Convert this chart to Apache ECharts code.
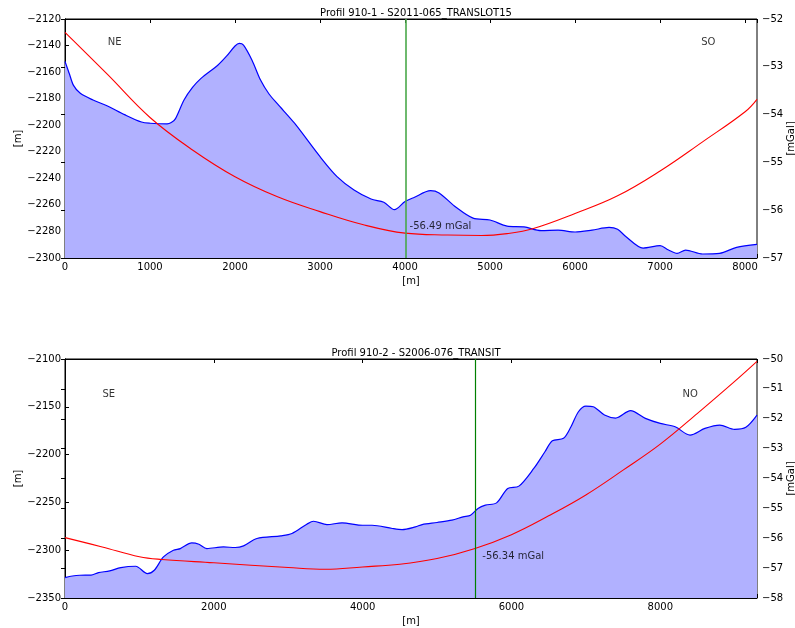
<!DOCTYPE html>
<html><head><meta charset="utf-8">
<script src="https://cdn.jsdelivr.net/npm/echarts@6/dist/echarts.min.js"></script>
<style>html,body{margin:0;padding:0;background:#fff}#c{width:795px;height:628px}</style>
</head><body><div id="c"></div><script>
// ---- Profile 1 ----
const title1 = 'Profil 910-1 - S2011-065_TRANSLOT15';
const terrainX1 = [0, 50, 100, 180, 330, 500, 700, 900, 1000, 1200, 1250, 1300, 1400, 1500, 1600, 1800, 1900, 2000, 2050, 2100, 2200, 2300, 2400, 2500, 2700, 3000, 3200, 3400, 3600, 3750, 3875, 4000, 4100, 4300, 4400, 4600, 4800, 5000, 5200, 5400, 5600, 5800, 6000, 6200, 6400, 6500, 6600, 6800, 7000, 7100, 7200, 7300, 7500, 7700, 7900, 8140];
const terrainY1 = [-2152, -2161, -2170, -2176, -2181, -2185.5, -2192, -2197.6, -2198.5, -2199, -2198, -2195, -2181, -2171.5, -2164.7, -2154.6, -2148, -2140.3, -2138.3, -2139.6, -2151, -2166, -2176.5, -2184, -2198.5, -2223.7, -2238.7, -2248.8, -2255.6, -2258, -2263.6, -2257.5, -2254.6, -2249.3, -2251, -2261.8, -2270, -2271.4, -2276, -2276.6, -2279.4, -2279, -2280.4, -2279, -2277, -2278.4, -2284, -2292.5, -2290.7, -2294, -2296.5, -2294, -2297, -2296.5, -2292, -2289.7];
const gravX1 = [0, 500, 1000, 1500, 2000, 2500, 3000, 3500, 4000, 4500, 4900, 5200, 5500, 6000, 6500, 7000, 7500, 8000, 8140];
const gravY1 = [-52.28, -53.16, -54.06, -54.74, -55.30, -55.72, -56.03, -56.30, -56.48, -56.52, -56.53, -56.49, -56.39, -56.07, -55.70, -55.18, -54.57, -53.94, -53.68];
const marker1 = 4012;
const markerLabel1 = '-56.49 mGal';
const markerValue1 = -56.49;
const dirLabels1 = ['NE', 'SO'];
const dirX1 = [585, 7568];
const dirY1 = [-2138, -2138];

// ---- Profile 2 ----
const title2 = 'Profil 910-2 - S2006-076_TRANSIT';
const terrainX2 = [0, 100, 200, 350, 450, 600, 750, 950, 1107, 1200, 1323, 1457, 1550, 1704, 1800, 1906, 2130, 2287, 2400, 2579, 2900, 3050, 3250, 3341, 3521, 3723, 4000, 4126, 4400, 4530, 4709, 4800, 5000, 5200, 5350, 5450, 5550, 5650, 5800, 5950, 6100, 6300, 6450, 6550, 6700, 6800, 6900, 7000, 7100, 7250, 7400, 7600, 7800, 8000, 8200, 8400, 8600, 8800, 9000, 9150, 9300];
const terrainY2 = [-2328.6, -2327, -2326.2, -2326, -2323.4, -2321.7, -2318.2, -2316.8, -2324.5, -2321, -2307, -2300, -2298.3, -2292.4, -2293.8, -2298.3, -2296.6, -2297.2, -2295.5, -2287.8, -2285, -2282.6, -2272.8, -2269.7, -2273.2, -2271.4, -2273.9, -2273.9, -2277.3, -2278.4, -2275.6, -2273.2, -2271, -2268.6, -2265.1, -2263.4, -2256.4, -2252.9, -2250.5, -2235.4, -2233, -2214.5, -2197, -2185.5, -2183, -2170.9, -2155.2, -2149.2, -2149.9, -2158.6, -2161.8, -2154.1, -2162.1, -2167.4, -2170.9, -2179.6, -2172.6, -2169.1, -2173.6, -2171.5, -2158.7];
const gravX2 = [0, 500, 1000, 1300, 2000, 3000, 3500, 4000, 4500, 5000, 5500, 6000, 6500, 7000, 7500, 8000, 8500, 9000, 9300];
const gravY2 = [-55.98, -56.29, -56.62, -56.71, -56.82, -56.98, -57.04, -56.96, -56.87, -56.68, -56.35, -55.88, -55.25, -54.55, -53.72, -52.85, -51.82, -50.75, -50.08];
const marker2 = 5507;
const markerLabel2 = '-56.34 mGal';
const markerValue2 = -56.34;
const dirLabels2 = ['SE', 'NO'];
const dirX2 = [589, 8402];
const dirY2 = [-2137, -2137];

const FONT = 'DejaVu Sans';
const fmt = v => String(v).replace('-', '\u2212');
const zip = (a, b) => a.map((x, i) => [x, b[i]]);

function xAxes(g, max, interval) {
  return [
    { gridIndex: g, type: 'value', min: 0, max: max, interval: interval, position: 'bottom',
      name: '[m]', nameLocation: 'middle', nameGap: 18, nameMoveOverlap: false,
      nameTextStyle: { fontFamily: FONT, fontSize: 10, color: '#000' },
      axisLine: { show: true, lineStyle: { color: '#000', width: 1 } },
      axisTick: { show: true, inside: true, length: 4, lineStyle: { color: '#000' } },
      axisLabel: { fontFamily: FONT, fontSize: 10, color: '#000', margin: 4,
        formatter: v => (v % interval === 0 ? fmt(v) : '') },
      splitLine: { show: false } },
    { gridIndex: g, type: 'value', min: 0, max: max, interval: interval, position: 'top',
      axisLine: { show: true, lineStyle: { color: '#000', width: 1 } },
      axisTick: { show: true, inside: true, length: 4, lineStyle: { color: '#000' } },
      axisLabel: { show: false }, splitLine: { show: false } }
  ];
}
function yAxes(g, min, max, interval, rmin, rmax) {
  return [
    { gridIndex: g, type: 'value', min: min, max: max, interval: interval, position: 'left',
      name: '[m]', nameLocation: 'middle', nameRotate: 90, nameGap: 42, nameMoveOverlap: false,
      nameTextStyle: { fontFamily: FONT, fontSize: 10, color: '#000' },
      axisLine: { show: true, lineStyle: { color: '#000', width: 1 } },
      axisTick: { show: true, inside: true, length: 4, lineStyle: { color: '#000' } },
      axisLabel: { fontFamily: FONT, fontSize: 10, color: '#000', margin: 4, formatter: fmt },
      splitLine: { show: false } },
    { gridIndex: g, type: 'value', min: rmin, max: rmax, interval: 1, position: 'right',
      name: '[mGal]', nameLocation: 'middle', nameRotate: 90, nameGap: 29, nameMoveOverlap: false,
      nameTextStyle: { fontFamily: FONT, fontSize: 10, color: '#000' },
      axisLine: { show: true, lineStyle: { color: '#000', width: 1 } },
      axisTick: { show: true, inside: true, length: 4, lineStyle: { color: '#000' } },
      axisLabel: { fontFamily: FONT, fontSize: 10, color: '#000', margin: 5, formatter: fmt },
      splitLine: { show: false } }
  ];
}
function seriesFor(xi, yi, tx, ty, gx, gy, marker, mcolor, mwidth, mlabel, mval, moff, dl, dx, dy) {
  return [
    { type: 'line', xAxisIndex: xi, yAxisIndex: yi, data: zip(tx, ty), smooth: 0.3,
      symbol: 'none', lineStyle: { color: '#0000ff', width: 1.2 },
      areaStyle: { color: '#b1b1ff', opacity: 1, origin: 'start' }, z: 2, silent: true },
    { type: 'line', xAxisIndex: xi, yAxisIndex: yi + 1, data: zip(gx, gy), smooth: 0.4,
      symbol: 'none', lineStyle: { color: '#ff0000', width: 1.1 }, z: 3, silent: true,
      markLine: { silent: true, symbol: 'none', label: { show: false },
        lineStyle: { color: mcolor, width: mwidth, type: 'solid', opacity: 1 },
        emphasis: { disabled: true },
        data: [{ xAxis: marker }] } },
    { type: 'scatter', xAxisIndex: xi, yAxisIndex: yi + 1, data: [[marker, mval]], symbolSize: 1,
      itemStyle: { color: 'transparent' }, z: 5, silent: true,
      label: { show: true, formatter: mlabel, position: 'right', distance: 0, offset: moff,
        fontFamily: FONT, fontSize: 10, color: '#000' } },
    { type: 'scatter', xAxisIndex: xi, yAxisIndex: yi, data: zip(dx, dy), symbolSize: 1,
      itemStyle: { color: 'transparent' }, z: 5, silent: true,
      label: { show: true, position: 'inside', formatter: p => dl[p.dataIndex],
        fontFamily: FONT, fontSize: 10, color: '#000' } }
  ];
}

const chart = echarts.init(document.getElementById('c'), null, { renderer: 'canvas' });
chart.setOption({
  animation: false,
  backgroundColor: '#fff',
  title: [
    { text: title1, left: 411, top: 3, textAlign: 'center',
      textStyle: { fontFamily: FONT, fontSize: 10, fontWeight: 'normal', color: '#000' } },
    { text: title2, left: 411, top: 343, textAlign: 'center',
      textStyle: { fontFamily: FONT, fontSize: 10, fontWeight: 'normal', color: '#000' } }
  ],
  grid: [
    { left: 65, top: 19, width: 692, height: 239, show: true, borderColor: '#000', borderWidth: 1,
      containLabel: false, outerBoundsMode: 'none' },
    { left: 65, top: 359, width: 692, height: 239, show: true, borderColor: '#000', borderWidth: 1,
      containLabel: false, outerBoundsMode: 'none' }
  ],
  xAxis: [...xAxes(0, 8140, 1000), ...xAxes(1, 9300, 2000)],
  yAxis: [...yAxes(0, -2300, -2120, 20, -57, -52), ...yAxes(1, -2350, -2100, 50, -58, -50)],
  series: [
    ...seriesFor(0, 0, terrainX1, terrainY1, gravX1, gravY1, marker1, '#4aa84a', 1.6, markerLabel1, markerValue1, [3, -7], dirLabels1, dirX1, dirY1),
    ...seriesFor(2, 2, terrainX2, terrainY2, gravX2, gravY2, marker2, '#008000', 1.2, markerLabel2, markerValue2, [7, 8], dirLabels2, dirX2, dirY2)
  ]
});
</script></body></html>
